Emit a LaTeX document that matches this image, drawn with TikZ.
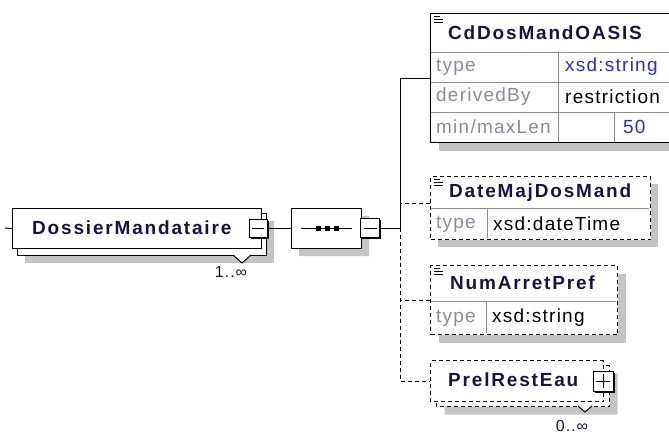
\documentclass[tikz,border=0pt]{standalone}
\usepackage{fontspec}
\setmainfont{Liberation Sans}
\newfontfamily\attrfont[LetterSpace=6.5]{Liberation Sans}
\newfontfamily\namefont[LetterSpace=9.6]{Liberation Sans}
\usetikzlibrary{positioning,shapes.misc,shadows}
\definecolor{namecol}{HTML}{14144A}
\definecolor{shadecol}{HTML}{C4C4C4}
\definecolor{attrcol}{HTML}{8A8AA2}
\definecolor{xsdcol}{HTML}{2A2AF0}
\definecolor{gridcol}{HTML}{8C8C8C}
\tikzset{
  >=latex,
  {box/.style} = {draw, fill=white, line width=1pt, inner sep=0},
  {dbox/.style} = {box, dash pattern=on 4pt off 3pt},
  {cbox/.style} = {chamfered rectangle, chamfered rectangle corners=north east,
                   chamfered rectangle xsep=4pt, chamfered rectangle ysep=4pt},
  {shadebox/.style} = {general shadow={fill=shadecol, shadow xshift=#1,
                   shadow yshift=-#1}},
  {gridline/.style} = {draw=gridcol, line width=1pt},
  {conn/.style} = {draw, line width=1pt},
  {dconn/.style} = {conn, dash pattern=on 4pt off 3pt},
  {btn/.style} = {draw, fill=white, line width=1pt, inner sep=0,
                  minimum width=#1, minimum height=#1,
                  general shadow={fill=black, shadow xshift=1.5pt, shadow yshift=-1.5pt}},
  {btnminus/.style} = {path picture={\draw[line width=1pt]
      ([xshift=3pt]path picture bounding box.west) --
      ([xshift=-3pt]path picture bounding box.east);}},
  {btnplus/.style} = {path picture={\draw[line width=1pt]
      ([xshift=3pt]path picture bounding box.west) --
      ([xshift=-3pt]path picture bounding box.east)
      ([yshift=-3pt]path picture bounding box.north) --
      ([yshift=3pt]path picture bounding box.south);}},
  {tagname/.style} = {font=\namefont\fontsize{19}{21}\selectfont\bfseries,
                   text=namecol, inner sep=0, anchor=west},
  {attr/.style} = {font=\attrfont\fontsize{19}{21}\selectfont,
                   text=attrcol, inner sep=0, anchor=west},
  {val/.style} = {attr, text=black},
  {xsd/.style} = {attr, text=xsdcol},
  {card/.style} = {font=\attrfont\fontsize{16}{18}\selectfont, text=namecol, inner sep=0},
  docmark/.pic = {\draw[line width=0.9pt] (0,0) -- (6,0) (0,3) -- (9,3) (0,6) -- (9,6);},
}

\begin{document}
\begin{tikzpicture}[x=1pt,y=-1pt]
\useasboundingbox (0,0) rectangle (669,437);
\clip (0,0) rectangle (669,437);

% root element
\node[box, shadebox=7pt, minimum width=249, minimum height=42, anchor=north west]
  (dossierback) at (17,213) {};
\node[box, line width=1.2pt, minimum width=249, minimum height=40, anchor=north west]
  (dossier) at (12,208) {};
\node[tagname] (dossiername) at (32,228) {DossierMandataire};
\draw[fill=white, line width=1pt] (233,255) -- (242,263) -- (251,255);
\node[card] (dossiercard) at (231,272) {1..∞};
\node[btn=18, btnminus] (dossierbtn) at (258,228) {};
\coordinate (dossierin) at (5,228);
\draw[conn] (dossierin) -- (dossier.west);

% sequence
\node[box, shadebox=8pt, chamfered rectangle, chamfered rectangle xsep=7pt,
  chamfered rectangle ysep=7pt, minimum width=70, minimum height=40] (seq) at (326,228) {};
\draw[line width=1pt] ([xshift=10pt]seq.west) -- ([xshift=-10pt]seq.east);
\foreach \x in {318,327,336}
  \fill (\x-2.5,225.5) rectangle (\x+2.5,230.5);
\node[btn=19, btnminus] (seqbtn) at (370,228) {};
\coordinate (trunk) at (400,228);
\draw[conn] (dossierbtn) -- (seq);
\draw[conn] (seqbtn) -- (trunk);

% CdDosMandOASIS
\node[box, shadebox=8pt, minimum width=245, minimum height=129, anchor=north west]
  (cddos) at (430,13) {};
\draw[gridline] (431,52) -- (675,52) (431,82) -- (675,82) (431,112) -- (675,112)
  (558,52) -- (558,142) (614,112) -- (614,142);
\pic at (434,16) {docmark};
\node[tagname] (cdname) at (448,33) {CdDosMandOASIS};
\node[attr] (cdtype) at (436,67) {type};
\node[xsd] (cdtypeval) at (565,67) {xsd:string};
\node[attr] (cdderiv) at (436,97) {derivedBy};
\node[val] (cdderivval) at (565,97) {restriction};
\node[attr] (cdlen) at (436,127) {min/maxLen};
\node[xsd] (cdlenval) at (623,127) {50};
\draw[conn] (trunk) |- (cddos.west);

% DateMajDosMand
\node[dbox, shadebox=7pt, minimum width=220, minimum height=63, anchor=north west]
  (datemaj) at (430,176) {};
\draw[gridline] (431,208) -- (649,208) (487,208) -- (487,238);
\pic at (434,179) {docmark};
\node[tagname] (datemajname) at (449,193) {DateMajDosMand};
\node[attr] (datemajtype) at (436,224) {type};
\node[val] (datemajval) at (493,224) {xsd:dateTime};
\coordinate (datemajin) at ([yshift=4.5pt]datemaj.west);

% NumArretPref
\node[dbox, shadebox=8pt, minimum width=187, minimum height=69, anchor=north west]
  (numarret) at (430,265) {};
\draw[gridline] (431,301) -- (616,301) (486,301) -- (486,333);
\pic at (434,268) {docmark};
\node[tagname] (numarretname) at (450,283) {NumArretPref};
\node[attr] (numarrettype) at (436,318) {type};
\node[val] (numarretval) at (492,318) {xsd:string};

% PrelRestEau
\node[dbox, cbox, shadebox=8pt, minimum width=173, minimum height=41, anchor=north west]
  (prelback) at (436,365) {};
\node[dbox, cbox, minimum width=173, minimum height=41, anchor=north west]
  (prel) at (430,360) {};
\node[tagname] (prelname) at (448,380) {PrelRestEau};
\node[btn=20, btnplus] (prelbtn) at (603,381) {};
\draw[fill=white, line width=1pt] (578,406) -- (585,412) -- (592,406);
\node[card] (prelcard) at (572,426) {0..∞};

% dashed branches
\draw[dconn] (trunk) |- (prel.west);
\draw[dconn] (numarret.west) -- (trunk |- numarret.west);
\draw[dconn] (datemajin) -- (trunk |- datemajin);
\end{tikzpicture}
\end{document}
